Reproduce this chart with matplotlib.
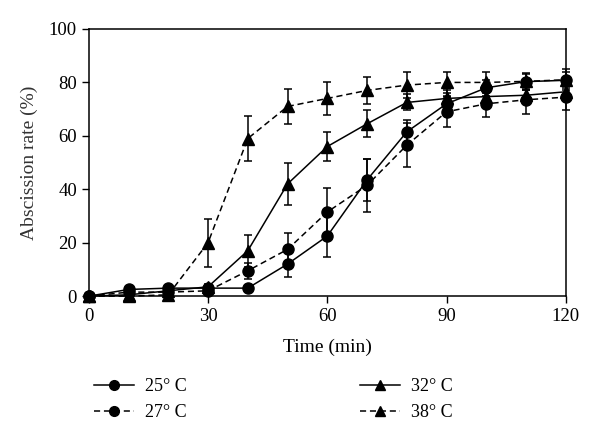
import numpy as np
import matplotlib
matplotlib.use('Agg')
import matplotlib.pyplot as plt

plt.rcParams['font.family'] = ['Liberation Serif', 'DejaVu Serif']

# Data
time_min = [0, 10, 20, 30, 40, 50, 60, 70, 80, 90, 100, 110, 120]

rate_25 = [0, 2.5, 3, 3, 3, 12, 22.5, 43.5, 61.5, 72, 78, 80.3, 80.8]
err_25 = [0, 0.5, 0.5, 0.5, 1, 5, 8, 8, 4.5, 3, 3, 3, 3]

rate_27 = [0, 1.5, 1.5, 2, 9.5, 17.5, 31.5, 41.5, 56.5, 69, 72, 73.5, 74.5]
err_27 = [0, 0.5, 0.5, 0.5, 3, 6, 9, 10, 8.3, 5.6, 5, 5.4, 5]

rate_32 = [0, 0.5, 2, 3.5, 17, 42, 56, 64.5, 72.5, 74, 74.7, 75.2, 76.5]
err_32 = [0, 0.5, 1, 1, 6, 8, 5.4, 5, 3, 3, 2, 2, 2]

rate_38 = [0, 0, 0.5, 20, 59, 71, 74, 77, 79, 80, 80, 80.4, 81]
err_38 = [0, 0, 0.5, 9, 8.3, 6.5, 6.3, 5, 5, 4, 4, 3, 4]

series = [
    ('25° C', rate_25, err_25, 'o', '-'),
    ('27° C', rate_27, err_27, 'o', (0, (4, 2.5))),
    ('32° C', rate_32, err_32, '^', '-'),
    ('38° C', rate_38, err_38, '^', (0, (4, 2.5))),
]

fig = plt.figure(figsize=(6, 4.46), dpi=100)
ax = fig.add_axes([0.148, 0.336, 0.795, 0.599])

handles = []
for label, vals, errs, marker, ls in series:
    eb = ax.errorbar(time_min, vals, yerr=errs, color='black', marker=marker,
                     markersize=8 if marker == 'o' else 8.5, linestyle=ls,
                     linewidth=1.1, elinewidth=1.1, capsize=3, capthick=1.1,
                     zorder=3)
    data_line, caplines, barcols = eb.lines
    data_line.set_clip_on(False)
    for c in caplines:
        c.set_clip_on(False)
    for c in barcols:
        c.set_clip_on(False)
    h, = ax.plot([], [], color='black', marker=marker, markersize=7,
                 linestyle=ls, linewidth=1.1, label=label)
    handles.append(h)

ax.set_xlim(0, 120)
ax.set_ylim(0, 100)
ax.set_xticks([0, 30, 60, 90, 120])
ax.set_yticks([0, 20, 40, 60, 80, 100])
ax.tick_params(direction='out', length=5, width=1, labelsize=13.5,
               top=False, right=False)
for sp in ax.spines.values():
    sp.set_linewidth(1.1)

ax.set_xlabel('Time (min)', fontsize=14, labelpad=10)
ax.set_ylabel('Abscission rate (%)', fontsize=14, color='#333333', labelpad=8)

leg_kw = dict(frameon=False, fontsize=13, handlelength=2.2, labelspacing=0.5,
              handletextpad=0.6, borderaxespad=0, loc='upper left')
fig.legend(handles=handles[:2], bbox_to_anchor=(0.145, 0.168), **leg_kw)
fig.legend(handles=handles[2:], bbox_to_anchor=(0.588, 0.168), **leg_kw)

fig.savefig('out.png', dpi=100)
